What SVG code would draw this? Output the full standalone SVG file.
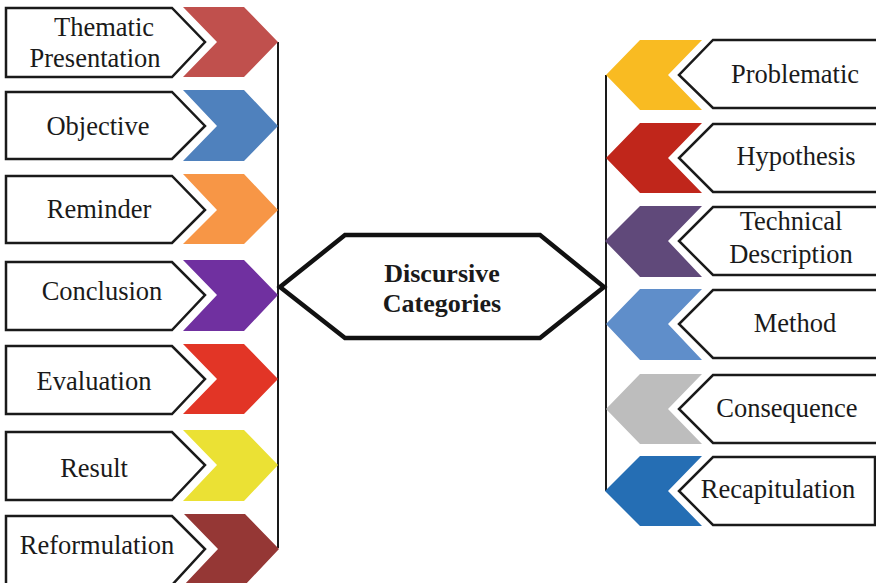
<svg xmlns="http://www.w3.org/2000/svg" width="876" height="583" viewBox="0 0 876 583">
<style>
.box{fill:#fff;stroke:#1a1a1a;stroke-width:2.5;stroke-linejoin:miter}
.lbl{font-family:'Liberation Serif','Times New Roman','DejaVu Serif',serif;font-size:26.5px;fill:#1a1a1a;text-anchor:middle}
.title{font-family:'Liberation Serif','Times New Roman','DejaVu Serif',serif;font-size:26px;font-weight:bold;fill:#1a1a1a;text-anchor:middle}
.line{fill:none;stroke:#1a1a1a;stroke-width:2}
</style>
<rect width="876" height="583" fill="#fff"/>
<g id="connectors">
<line class="line" x1="278" y1="42" x2="278" y2="548"/>
<line class="line" x1="606" y1="75" x2="606" y2="491"/>
</g>
<g id="center">
<polygon points="280,287 345,235 540,235 604,287 540,338 345,338" fill="#fff" stroke="#111" stroke-width="4.5" stroke-linejoin="miter"/>
<text class="title" x="442" y="282">Discursive</text>
<text class="title" x="442" y="312">Categories</text>
</g>
<g id="thematic">
<polygon class="box" points="6,8 172,8 205,42 172,77 6,77"/>
<polygon points="183,7 244,7 278,42 244,77 183,77 217,42" fill="#C0504D"/>
<text class="lbl" x="104" y="36">Thematic</text>
<text class="lbl" x="95" y="67">Presentation</text>
</g>
<g id="objective">
<polygon class="box" points="6,92 172,92 205,126 172,159 6,159"/>
<polygon points="183,90 244,90 278,126 244,161 183,161 217,126" fill="#4F81BD"/>
<text class="lbl" x="98" y="135">Objective</text>
</g>
<g id="reminder">
<polygon class="box" points="6,176 172,176 205,210 172,243 6,243"/>
<polygon points="183,174 244,174 278,210 244,244 183,244 217,210" fill="#F79646"/>
<text class="lbl" x="99" y="218">Reminder</text>
</g>
<g id="conclusion">
<polygon class="box" points="6,262 172,262 205,295 172,330 6,330"/>
<polygon points="183,260 244,260 278,295 244,331 183,331 217,295" fill="#7030A0"/>
<text class="lbl" x="102" y="300">Conclusion</text>
</g>
<g id="evaluation">
<polygon class="box" points="6,346 172,346 205,379 172,414 6,414"/>
<polygon points="183,344 244,344 278,379 244,414 183,414 217,379" fill="#E23526"/>
<text class="lbl" x="94" y="390">Evaluation</text>
</g>
<g id="result">
<polygon class="box" points="6,432 172,432 205,465 172,500 6,500"/>
<polygon points="183,430 244,430 278,465 244,501 183,501 217,465" fill="#EBE134"/>
<text class="lbl" x="94" y="477">Result</text>
</g>
<g id="reformulation">
<polygon class="box" points="6,516 172,516 205,549 172,585 6,585"/>
<polygon points="184,514 245,514 279,549 245,585 184,585 218,549" fill="#953735"/>
<text class="lbl" x="97" y="554">Reformulation</text>
</g>
<g id="problematic">
<polygon class="box" points="878,40 713,40 679,75 713,108 878,108"/>
<polygon points="606,75 640,40 702,40 668,75 702,110 640,110" fill="#F9BB22"/>
<text class="lbl" x="795" y="83">Problematic</text>
</g>
<g id="hypothesis">
<polygon class="box" points="878,124 713,124 679,158 713,192 878,192"/>
<polygon points="606,158 640,123 702,123 668,158 702,193 640,193" fill="#C0261B"/>
<text class="lbl" x="796" y="165">Hypothesis</text>
</g>
<g id="technical">
<polygon class="box" points="878,207 713,207 679,241 713,275 878,275"/>
<polygon points="605,241 640,206 702,206 668,241 702,277 640,277" fill="#60497A"/>
<text class="lbl" x="791" y="230">Technical</text>
<text class="lbl" x="791" y="263">Description</text>
</g>
<g id="method">
<polygon class="box" points="878,290 713,290 679,324 713,358 878,358"/>
<polygon points="606,324 640,289 702,289 668,324 702,360 640,360" fill="#5F8ECA"/>
<text class="lbl" x="795" y="332">Method</text>
</g>
<g id="consequence">
<polygon class="box" points="878,375 713,375 679,409 713,443 878,443"/>
<polygon points="606,409 640,374 702,374 668,409 702,444 640,444" fill="#BDBDBD"/>
<text class="lbl" x="787" y="417">Consequence</text>
</g>
<g id="recapitulation">
<polygon class="box" points="875,457 713,457 679,491 713,525 875,525"/>
<polygon points="605,491 640,456 702,456 668,491 702,526 640,526" fill="#256EB4"/>
<text class="lbl" x="778" y="498">Recapitulation</text>
</g>
</svg>
